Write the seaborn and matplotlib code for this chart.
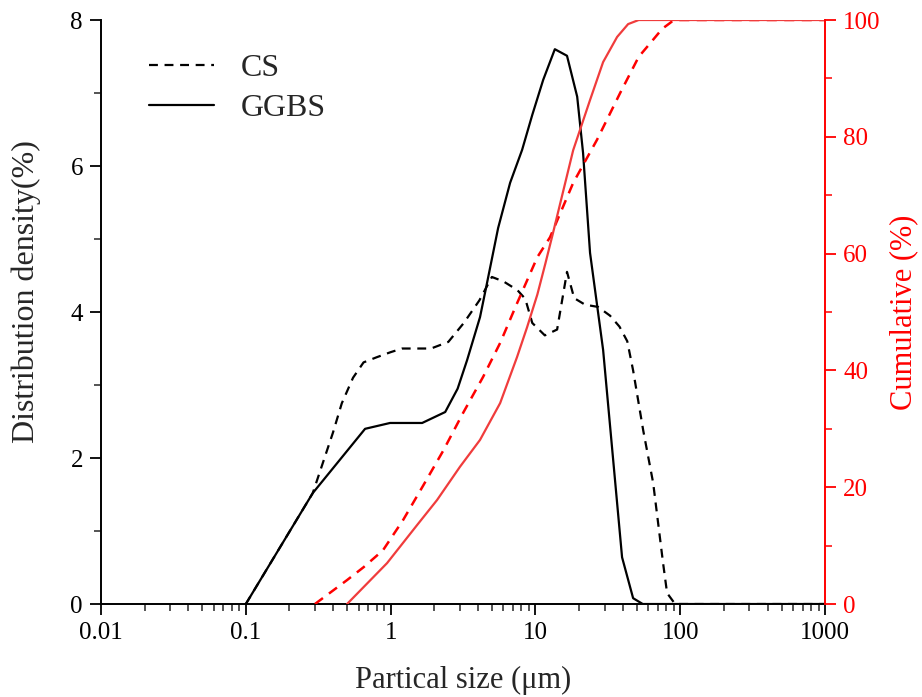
import numpy as np
import pandas as pd
import seaborn as sns
import matplotlib
matplotlib.use("Agg")
import matplotlib.pyplot as plt
from matplotlib.ticker import FixedLocator, MultipleLocator, LogLocator, NullFormatter

# Particle size distribution data (size in µm)
cs_size = [0.1, 0.2, 0.29, 0.4, 0.46, 0.55, 0.65, 0.8, 1.0, 1.2, 1.9, 2.5, 3.2, 4.1, 5.0,
           6.0, 7.5, 8.5, 9.5, 11.6, 14.1, 16.5, 18.5, 22, 27, 32.7, 38, 43, 47.2, 55.4,
           64.9, 76, 81, 92, 1000]
cs_density = [0.0, 0.99, 1.52, 2.35, 2.75, 3.1, 3.31, 3.38, 3.45, 3.5, 3.5, 3.59, 3.85, 4.16,
              4.48, 4.42, 4.3, 4.18, 3.85, 3.68, 3.76, 4.55, 4.19, 4.1, 4.07, 3.95, 3.8, 3.6,
              3.2, 2.38, 1.66, 0.56, 0.15, 0.0, 0.0]

ggbs_size = [0.1, 0.29, 0.666, 0.99, 1.65, 2.38, 2.9, 3.37, 4.14, 4.63, 5.52, 6.68,
             8.08, 9.5, 11.3, 13.6, 16.5, 19.4, 21.3, 23.8, 29.3, 39.6, 47.2, 55, 1000]
ggbs_density = [0.0, 1.52, 2.40, 2.48, 2.48, 2.63, 2.95, 3.34, 3.93, 4.4, 5.15, 5.77,
                6.22, 6.7, 7.18, 7.6, 7.51, 6.95, 6.18, 4.81, 3.48, 0.64, 0.08, 0.0, 0.0]

cs_cum_size = [0.30, 0.50, 0.65, 0.885, 1.22, 1.67, 2.30, 3.16, 4.35, 5.70, 7.46, 10.3,
               12.6, 18.2, 26.6, 38.4, 51.6, 61.8, 75, 85, 90, 1000]
cs_cumulative = [0.0, 4.1, 6.3, 9.2, 14.4, 20.2, 26.2, 32.7, 38.9, 44.7, 51.5, 59.4,
                 62.8, 72.1, 79.5, 87.5, 93.7, 96.0, 98.5, 99.5, 100.0, 100.0]

ggbs_cum_size = [0.5, 0.944, 1.52, 2.09, 3.01, 4.14, 5.70, 7.46, 8.75, 10.3, 11.7, 13.2,
                 18.2, 23.8, 29.3, 36.6, 43.6, 51.6, 1000]
ggbs_cumulative = [0.0, 7.0, 13.5, 17.8, 23.5, 28.1, 34.4, 42.3, 47.4, 53.0, 58.3, 63.5,
                   77.7, 86.3, 92.8, 97.1, 99.3, 100.0, 100.0]

x_ticks = [0.01, 0.1, 1, 10, 100, 1000]
x_tick_labels = ["0.01", "0.1", "1", "10", "100", "1000"]

density = pd.concat([
    pd.DataFrame({"size": cs_size, "value": cs_density, "sample": "CS"}),
    pd.DataFrame({"size": ggbs_size, "value": ggbs_density, "sample": "GGBS"}),
], ignore_index=True)
cumulative = pd.concat([
    pd.DataFrame({"size": cs_cum_size, "value": cs_cumulative, "sample": "CS"}),
    pd.DataFrame({"size": ggbs_cum_size, "value": ggbs_cumulative, "sample": "GGBS"}),
], ignore_index=True)

sns.set_theme(style="ticks")
plt.rcParams["font.family"] = ["Liberation Serif", "DejaVu Serif"]

fig = plt.figure(figsize=(9.22, 6.97), dpi=100)
ax = fig.add_axes([0.1095, 0.1334, 0.7855, 0.8379])
ax2 = ax.twinx()

dash = (4, 3)
sns.lineplot(data=density[density["sample"] == "CS"], x="size", y="value", ax=ax,
             color="black", lw=1.6, estimator=None, sort=False, label="CS", zorder=3)
ax.lines[-1].set_dashes(dash)
sns.lineplot(data=density[density["sample"] == "GGBS"], x="size", y="value", ax=ax,
             color="black", lw=1.6, estimator=None, sort=False, label="GGBS", zorder=3)

sns.lineplot(data=cumulative[cumulative["sample"] == "CS"], x="size", y="value", ax=ax2,
             color="#FF0000", lw=1.8, estimator=None, sort=False, legend=False)
ax2.lines[-1].set_dashes(dash)
sns.lineplot(data=cumulative[cumulative["sample"] == "GGBS"], x="size", y="value", ax=ax2,
             color="#F03C3C", lw=1.6, estimator=None, sort=False, legend=False)

ax.set_xscale("log")
ax.set_xlim(0.01, 1000)
ax.set_ylim(0, 8)
ax2.set_ylim(0, 100)
ax.xaxis.set_major_locator(FixedLocator(x_ticks))
ax.set_xticklabels(x_tick_labels)
ax.xaxis.set_minor_locator(LogLocator(base=10, subs=np.arange(2, 10)))
ax.xaxis.set_minor_formatter(NullFormatter())
ax.yaxis.set_major_locator(MultipleLocator(2))
ax.yaxis.set_minor_locator(MultipleLocator(1))
ax2.yaxis.set_major_locator(MultipleLocator(20))
ax2.yaxis.set_minor_locator(MultipleLocator(10))

for a in (ax, ax2):
    a.spines["top"].set_visible(False)
    a.tick_params(which="major", length=8, width=1.3, labelsize=18, direction="out", pad=5)
    a.tick_params(which="minor", length=5, width=1.1, direction="out")
for s in ("left", "bottom"):
    ax.spines[s].set_linewidth(1.4)
    ax.spines[s].set_color("black")
ax.spines["right"].set_visible(False)
ax2.spines["left"].set_visible(False)
ax2.spines["bottom"].set_visible(False)
ax2.spines["right"].set_color("#FF0000")
ax2.spines["right"].set_linewidth(1.4)
ax2.tick_params(axis="y", which="both", colors="#FF0000")
ax.tick_params(colors="black")

ax.set_xlabel("Partical size (μm)", fontsize=22, labelpad=16)
ax.set_ylabel("Distribution density(%)", fontsize=23, labelpad=21, y=0.535)
ax2.set_ylabel("Cumulative (%)", fontsize=22, color="#FF0000", labelpad=6)

leg = ax.legend(loc="upper left", bbox_to_anchor=(0.026, 0.992), frameon=False,
                fontsize=23, handlelength=2.05, handletextpad=0.85, labelspacing=0.35)
leg.get_lines()[0].set_dashes(dash)

fig.savefig("out.png", dpi=100)
